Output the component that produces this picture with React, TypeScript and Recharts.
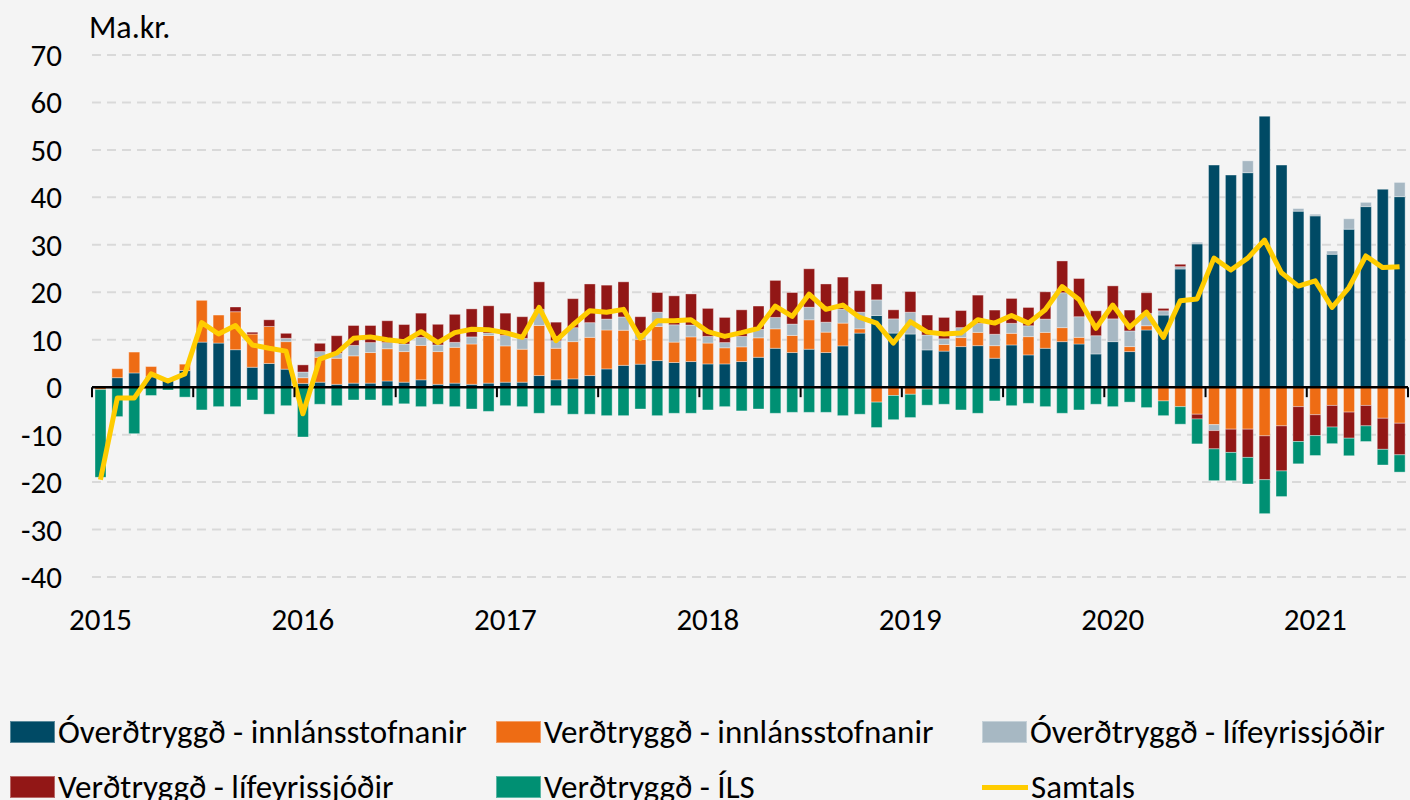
import React from 'react';
import { ComposedChart, Bar, Line, XAxis, YAxis, CartesianGrid, ReferenceLine } from 'recharts';

// ---------- data ----------
const YEARS = ['2015', '2016', '2017', '2018', '2019', '2020', '2021'];
const LAST_YEAR_MONTHS = 6;
const Y_TICKS = [-40, -30, -20, -10, 0, 10, 20, 30, 40, 50, 60, 70];

// Óverðtryggð - innlánsstofnanir
const overdInnlan = [
  0, 2.0, 3.0, 2.2, 1.8, 3.5, 9.5, 9.3, 7.9, 4.2, 5.0, 3.8,
  0.8, 1.05, 0.6, 0.85, 0.85, 1.3, 1.05, 1.55, 0.6, 0.85, 0.6, 0.85,
  1.05, 1.05, 2.45, 1.55, 1.75, 2.45, 3.85, 4.6, 4.85, 5.6, 5.2, 5.4,
  4.9, 4.9, 5.4, 6.3, 8.2, 7.3, 8.0, 7.3, 8.7, 11.4, 15.1, 11.4,
  11.2, 7.85, 7.6, 8.55, 8.75, 6.1, 8.9, 6.8, 8.2, 9.6, 9.1, 7.0,
  9.6, 7.5, 12.05, 15.2, 24.9, 30.2, 46.8, 44.7, 45.2, 57.1, 46.8, 37.1,
  36.1, 28.0, 33.3, 38.05, 41.7, 40.15,
];
// Verðtryggð - innlánsstofnanir
const verdInnlan = [
  -0.5, 1.9, 4.4, 2.15, 0, 1.35, 8.8, 5.9, 8.0, 7.0, 7.8, 5.8,
  1.2, 5.25, 5.5, 5.75, 6.45, 6.8, 6.45, 7.25, 6.9, 7.55, 8.5, 10.05,
  7.65, 6.95, 10.55, 6.65, 7.85, 8.05, 8.2, 7.4, 5.25, 7.2, 4.3, 5.2,
  4.4, 3.4, 3.1, 4.1, 4.1, 3.6, 6.2, 4.3, 4.8, 0.9, -3.15, -1.75,
  -1.5, -0.4, 1.4, 1.9, 2.8, 2.65, 2.45, 3.85, 3.35, 2.95, 1.4, 0,
  0, 1.05, 0.9, -2.9, -4.1, -5.7, -7.9, -8.85, -8.85, -10.25, -8.15, -4.1,
  -5.8, -3.85, -5.25, -3.85, -6.55, -7.6,
];
// Óverðtryggð - lífeyrissjóðir
const overdLif = [
  0, 0, 0, 0, 0, 0, 0, 0, 0, 0, 0, 0.7,
  1.2, 1.2, 1.05, 2.2, 2.1, 1.3, 1.6, 1.7, 1.4, 1.05, 1.5, 0.5,
  2.2, 2.3, 3.4, 1.6, 2.95, 3.1, 2.3, 2.8, 1.25, 3.0, 3.65, 2.5,
  1.4, 1.1, 2.2, 1.8, 2.4, 2.4, 2.65, 2.1, 2.95, 3.5, 3.3, 3.0,
  4.6, 3.15, 1.2, 2.1, 1.9, 2.4, 2.1, 2.3, 2.8, 7.35, 4.35, 3.85,
  4.8, 3.3, 2.6, 0.9, 0.5, 0.35, -1.25, 0, 2.5, 0, 0, 0.55,
  0.35, 0.7, 2.2, 0.9, 0, 3.0,
];
// Verðtryggð - lífeyrissjóðir
const verdLif = [
  0, 0, 0, 0, 0, 0, 0, 0, 1.0, 0.4, 1.4, 1.05,
  1.5, 1.75, 3.7, 4.2, 3.6, 4.6, 4.1, 5.1, 4.35, 5.9, 5.9, 5.75,
  4.7, 4.55, 5.8, 3.9, 6.1, 8.15, 7.15, 7.4, 3.5, 4.15, 6.1, 6.55,
  5.9, 5.3, 5.6, 4.9, 7.8, 6.65, 8.1, 8.05, 6.75, 4.55, 3.35, 1.9,
  4.35, 4.2, 4.5, 3.6, 5.95, 5.1, 5.25, 3.85, 5.75, 6.7, 8.05, 5.25,
  6.95, 4.4, 4.35, 0.5, 0.5, -1.0, -3.85, -4.9, -5.95, -9.25, -9.5, -7.35,
  -4.4, -4.55, -5.5, -4.3, -6.55, -6.65,
];
// Verðtryggð - ÍLS
const verdILS = [
  -18.5, -6.2, -9.8, -1.75, -0.6, -2.1, -4.8, -4.1, -4.1, -2.7, -5.7, -3.9,
  -10.5, -3.6, -3.9, -2.7, -2.7, -3.9, -3.5, -4.1, -3.6, -4.1, -4.6, -5.1,
  -3.9, -4.1, -5.5, -3.9, -5.7, -5.7, -6.0, -6.0, -4.6, -6.0, -5.5, -5.5,
  -4.8, -4.1, -5.0, -4.6, -5.5, -5.3, -5.3, -5.3, -6.0, -5.7, -5.35, -5.1,
  -4.9, -3.4, -3.6, -4.8, -5.5, -2.9, -3.9, -3.4, -4.1, -5.5, -4.8, -3.6,
  -4.1, -3.15, -4.3, -3.1, -3.7, -5.25, -6.7, -5.95, -5.6, -7.15, -5.4, -4.7,
  -4.2, -3.5, -3.7, -3.3, -3.3, -3.65,
];
// Samtals
const samtals = [
  -19.5, -2.3, -2.3, 2.8, 1.3, 2.8, 13.6, 11.2, 13.0, 8.9, 8.2, 7.6,
  -5.6, 5.9, 7.2, 10.3, 10.6, 10.0, 9.6, 11.7, 9.4, 11.5, 12.2, 12.1,
  11.5, 10.5, 16.8, 9.8, 13.1, 16.1, 15.8, 16.4, 10.3, 14.0, 14.0, 14.2,
  11.7, 10.7, 11.5, 12.4, 17.1, 14.9, 19.6, 16.4, 17.3, 14.7, 13.5, 9.3,
  13.8, 11.6, 11.2, 11.4, 14.2, 13.5, 15.1, 13.5, 16.3, 21.2, 18.5, 12.4,
  17.3, 12.6, 15.8, 10.5, 18.2, 18.6, 27.2, 24.7, 27.2, 31.0, 24.1, 21.3,
  22.4, 16.8, 21.0, 27.65, 25.2, 25.4,
];

const BAR_SERIES = [
  { key: 'overdInnlan', name: 'Óverðtryggð - innlánsstofnanir', color: '#004A65', values: overdInnlan },
  { key: 'verdInnlan', name: 'Verðtryggð - innlánsstofnanir', color: '#EE6C14', values: verdInnlan },
  { key: 'overdLif', name: 'Óverðtryggð - lífeyrissjóðir', color: '#A7B8C3', values: overdLif },
  { key: 'verdLif', name: 'Verðtryggð - lífeyrissjóðir', color: '#921716', values: verdLif },
  { key: 'verdILS', name: 'Verðtryggð - ÍLS', color: '#009073', values: verdILS },
];
const LINE_NAME = 'Samtals';
const LINE_COLOR = '#FFCC00';

const categories: string[] = [];
YEARS.forEach((y, yi) => {
  const n = yi === YEARS.length - 1 ? LAST_YEAR_MONTHS : 12;
  for (let m = 1; m <= n; m++) categories.push(`${y}-${m}`);
});

const data = categories.map((c, i) => {
  const row: Record<string, any> = { cat: c, samtals: samtals[i] };
  BAR_SERIES.forEach((s) => { row[s.key] = s.values[i]; });
  return row;
});

// ---------- layout ----------
const W = 1410;
const H = 800;
const PLOT_LEFT = 92;
const PLOT_RIGHT = 1408;
const PLOT_TOP = 55;
const PLOT_BOTTOM = 577;
const X_AXIS_H = 40;
const Y_MIN = -40;
const Y_MAX = 70;
const ZERO_Y = PLOT_TOP + ((Y_MAX - 0) / (Y_MAX - Y_MIN)) * (PLOT_BOTTOM - PLOT_TOP);
const STEP = (PLOT_RIGHT - PLOT_LEFT) / categories.length;
const FONT = 'Carlito, Lato, "Open Sans", sans-serif';
const AXIS_FS = 31;

const XTick = (props: any) => {
  const { x, index, payload } = props;
  const [yr, m] = String(payload.value).split('-');
  return (
    <g>
      {m === '1' && (
        <text x={x} y={PLOT_BOTTOM + 42} textAnchor="middle" dominantBaseline="central"
          fontSize={AXIS_FS} fontFamily={FONT} fill="#000">{yr}</text>
      )}
      {index % 6 === 0 && (
        <line x1={x - STEP / 2} x2={x - STEP / 2} y1={ZERO_Y} y2={ZERO_Y + 10} stroke="#000" strokeWidth={2} />
      )}
      {index === categories.length - 1 && (
        <line x1={x + STEP / 2} x2={x + STEP / 2} y1={ZERO_Y} y2={ZERO_Y + 10} stroke="#000" strokeWidth={2} />
      )}
    </g>
  );
};

const YTick = (props: any) => {
  const { y, payload } = props;
  return (
    <text x={62} y={y} textAnchor="end" dominantBaseline="central" fontSize={AXIS_FS} fontFamily={FONT} fill="#000">
      {payload.value}
    </text>
  );
};

const legendItems = [
  ...BAR_SERIES.map((s) => ({ name: s.name, color: s.color, type: 'bar' })),
  { name: LINE_NAME, color: LINE_COLOR, type: 'line' },
];
const LEGEND_COLS = [10, 496, 982];
const LEGEND_ROW_CENTERS = [732, 787];

export default function App() {
  return (
    <div style={{ position: 'absolute', left: 0, top: 0, width: W, height: H, background: '#F4F4F4', overflow: 'hidden', fontFamily: FONT }}>
      <div style={{ position: 'absolute', left: 89, top: 12, fontSize: 32, color: '#000', lineHeight: '32px' }}>Ma.kr.</div>
      <ComposedChart
        width={W}
        height={H}
        data={data}
        stackOffset="sign"
        barCategoryGap={3}
        margin={{ top: PLOT_TOP, right: W - PLOT_RIGHT, left: 0, bottom: H - PLOT_BOTTOM - X_AXIS_H }}
      >
        <CartesianGrid horizontal vertical={false} stroke="#D9D9D9" strokeWidth={2} strokeDasharray="9 6" />
        <XAxis dataKey="cat" interval={0} axisLine={false} tickLine={false} height={X_AXIS_H} tick={<XTick />} />
        <YAxis domain={[Y_MIN, Y_MAX]} ticks={Y_TICKS} width={PLOT_LEFT} axisLine={false} tickLine={false} tick={<YTick />} interval={0} />
        {BAR_SERIES.map((s) => (
          <Bar key={s.key} dataKey={s.key} name={s.name} stackId="a" fill={s.color}
            stroke="#FFFFFF" strokeOpacity={0.45} strokeWidth={0.8} isAnimationActive={false} />
        ))}
        <ReferenceLine y={0} stroke="#000" strokeWidth={2.6} />
        <Line type="linear" dataKey="samtals" name={LINE_NAME} stroke={LINE_COLOR} strokeWidth={5}
          dot={false} activeDot={false} strokeLinejoin="round" isAnimationActive={false} />
      </ComposedChart>
      {legendItems.map((it, i) => {
        const left = LEGEND_COLS[i % 3];
        const center = LEGEND_ROW_CENTERS[Math.floor(i / 3)];
        return (
          <div key={it.name} style={{ position: 'absolute', left, top: center - 20, height: 40, display: 'flex', alignItems: 'center', whiteSpace: 'nowrap' }}>
            {it.type === 'bar' ? (
              <div style={{ width: 45, height: 22, background: it.color, boxShadow: 'inset 0 0 0 1px rgba(255,255,255,0.35)' }} />
            ) : (
              <div style={{ width: 46, height: 5, background: it.color }} />
            )}
            <span style={{ marginLeft: 3, fontSize: 33, color: '#000', lineHeight: '40px' }}>{it.name}</span>
          </div>
        );
      })}
    </div>
  );
}
